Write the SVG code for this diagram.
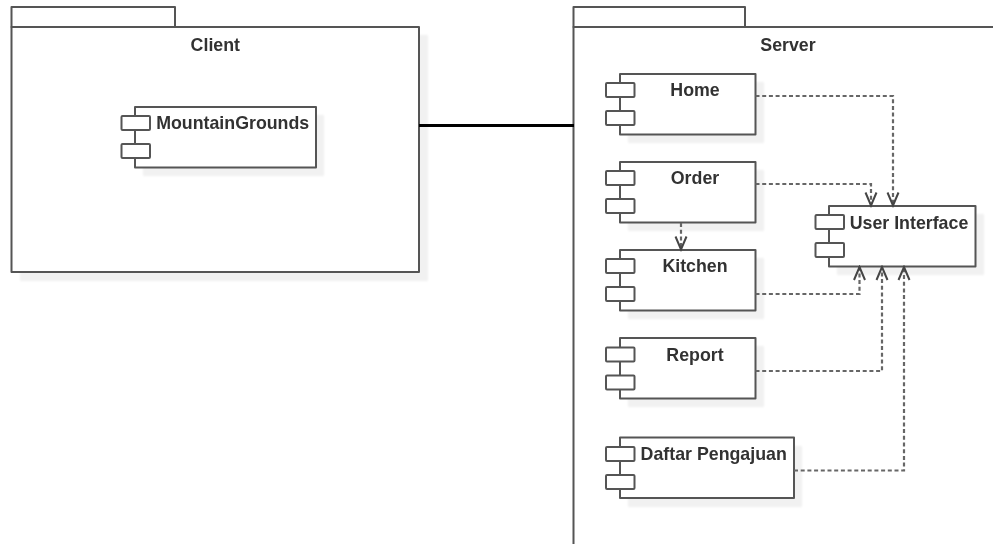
<svg xmlns="http://www.w3.org/2000/svg" width="993" height="544" viewBox="0 0 993 544">
<style>
.s{fill:#f1f1f1;stroke:none}
.b{fill:#fff;stroke:#555;stroke-width:2;stroke-linejoin:round}
text{font-family:"Liberation Sans",Arial,sans-serif;font-weight:bold;font-size:17.800px;fill:#333;text-anchor:middle}
.d{fill:none;stroke:#666;stroke-width:2.200;stroke-dasharray:4 2.700}
.a{fill:none;stroke:#444;stroke-width:2}
</style>
<defs>
<filter id="soft" x="-2%" y="-2%" width="104%" height="104%"><feGaussianBlur stdDeviation="0.350"/></filter>
<filter id="shadowsoft" x="-5%" y="-5%" width="110%" height="110%"><feGaussianBlur stdDeviation="1"/></filter>
<g id="comp-ports"><rect class="b" x="0" y="0" width="28.500" height="14" rx="1"/><rect class="b" x="0" y="28" width="28.500" height="14" rx="1"/></g>
<marker id="open" markerWidth="16" markerHeight="16" refX="14" refY="8" orient="auto" markerUnits="userSpaceOnUse" viewBox="0 0 16 16"><path class="a" d="M1 2.500L14 8L1 13.500"/></marker>
</defs>
<rect width="993" height="544" fill="#fff"/>
<g filter="url(#soft)">
<g id="client">
<rect class="s" x="20" y="35" width="408" height="246" filter="url(#shadowsoft)"/>
<rect class="b" x="11.500" y="7" width="163.500" height="20"/>
<rect class="b" x="11.500" y="27" width="407.500" height="245"/>
<text x="215.300" y="50.700">Client</text>
</g>
<g id="server">
<rect class="s" x="582" y="35" width="411" height="509" filter="url(#shadowsoft)"/>
<rect class="b" x="573.500" y="7" width="171.500" height="20"/>
<path class="b" d="M997 27H573.500V548H997Z"/>
<text x="788" y="50.700">Server</text>
</g>
<g id="mountaingrounds">
<rect class="s" x="143" y="115" width="181" height="61" filter="url(#shadowsoft)"/>
<rect class="b" x="135" y="107" width="181" height="60.500"/>
<use href="#comp-ports" x="121.500" y="116"/>
<text x="232.700" y="129.200">MountainGrounds</text>
</g>
<g id="home">
<rect class="s" x="628" y="82" width="136" height="61" filter="url(#shadowsoft)"/>
<rect class="b" x="620" y="74" width="135.500" height="60.500"/>
<use href="#comp-ports" x="606" y="83"/>
<text x="695" y="95.700">Home</text>
</g>
<g id="order">
<rect class="s" x="628" y="170" width="136" height="61" filter="url(#shadowsoft)"/>
<rect class="b" x="620" y="162" width="135.500" height="60.500"/>
<use href="#comp-ports" x="606" y="171"/>
<text x="695" y="183.700">Order</text>
</g>
<g id="kitchen">
<rect class="s" x="628" y="258" width="136" height="61" filter="url(#shadowsoft)"/>
<rect class="b" x="620" y="250" width="135.500" height="60.500"/>
<use href="#comp-ports" x="606" y="259"/>
<text x="695" y="272.200">Kitchen</text>
</g>
<g id="report">
<rect class="s" x="628" y="346" width="136" height="61" filter="url(#shadowsoft)"/>
<rect class="b" x="620" y="338" width="135.500" height="60.500"/>
<use href="#comp-ports" x="606" y="347.500"/>
<text x="695" y="360.700">Report</text>
</g>
<g id="daftar-pengajuan">
<rect class="s" x="628" y="446" width="174" height="61" filter="url(#shadowsoft)"/>
<rect class="b" x="620" y="437.500" width="174" height="60.500"/>
<use href="#comp-ports" x="606" y="447"/>
<text x="713.700" y="459.700">Daftar Pengajuan</text>
</g>
<g id="user-interface">
<rect class="s" x="837" y="214" width="147" height="61" filter="url(#shadowsoft)"/>
<rect class="b" x="829" y="206" width="146.500" height="60.500"/>
<use href="#comp-ports" x="815.500" y="215"/>
<text x="909" y="228.700">User Interface</text>
</g>
<g id="connectors">
<path d="M419 125.500H574" fill="none" stroke="#000" stroke-width="3"/>
<path class="d" d="M755.500 96H893V205.500" marker-end="url(#open)"/>
<path class="d" d="M755.500 184H871V205.500" marker-end="url(#open)"/>
<path class="d" d="M681 223V249.500" marker-end="url(#open)"/>
<path class="d" d="M755.500 294H859.500V267" marker-end="url(#open)"/>
<path class="d" d="M755.500 371H882V267" marker-end="url(#open)"/>
<path class="d" d="M794 470.500H904V267" marker-end="url(#open)"/>
</g>
</g>
</svg>
